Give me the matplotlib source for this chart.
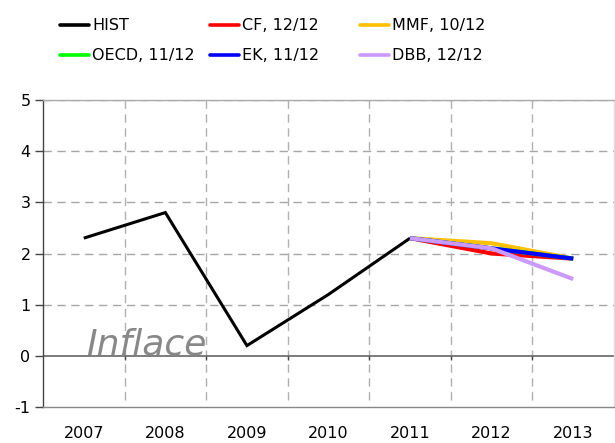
import matplotlib
matplotlib.use("Agg")
import matplotlib.pyplot as plt
from matplotlib.lines import Line2D

plt.rcParams["axes.unicode_minus"] = False

# data
years = ["2007", "2008", "2009", "2010", "2011", "2012", "2013"]
hist = [2.3, 2.8, 0.2, 1.2, 2.3]
fc_years = ["2011", "2012", "2013"]
cf = [2.3, 2.0, 1.9]
mmf = [2.3, 2.2, 1.9]
oecd = [2.3, 2.1, 1.9]
ek = [2.3, 2.1, 1.9]
dbb = [2.3, 2.1, 1.5]

series = [
    ("HIST", years[:5], hist, "black", 2.2),
    ("CF, 12/12", fc_years, cf, "#ff0000", 3.0),
    ("MMF, 10/12", fc_years, mmf, "#ffc000", 3.0),
    ("OECD, 11/12", fc_years, oecd, "#00ff00", 3.0),
    ("EK, 11/12", fc_years, ek, "#0000ff", 3.0),
    ("DBB, 12/12", fc_years, dbb, "#cc99ff", 3.0),
]

W, H = 615, 443
fig = plt.figure(figsize=(W / 100, H / 100), dpi=100)
ax = fig.add_axes([43 / W, 36 / H, 571 / W, 307 / H])

pos = {y: i for i, y in enumerate(years)}
for label, xs, ys, color, lw in series:
    ax.plot([pos[x] for x in xs], ys, color=color, lw=lw, solid_capstyle="butt",
            solid_joinstyle="miter", zorder=3)

ax.set_xlim(-0.5, len(years) - 0.5)
ax.set_ylim(-1, 5)
ax.set_yticks(range(-1, 6))
ax.set_xticks(range(len(years)))
ax.set_xticklabels(years)
ax.tick_params(axis="x", length=0, pad=14, labelsize=11.5, colors="black")
ax.tick_params(axis="y", length=6, width=1, color="#444444", pad=3,
               labelsize=11.5, colors="black")

# grid
dash = (0, (6, 4))
for yv in range(1, 6):
    ax.axhline(yv, color="#a6a6a6", lw=1, linestyle=dash, zorder=1)
for i in range(len(years) - 1):
    ax.vlines(i + 0.5, -0.87, 5, color="#b0b0b0", lw=1, linestyles=dash, zorder=1)
    ax.vlines(i + 0.5, -0.08, 0, color="#444444", lw=1, zorder=2)
ax.axhline(0, color="#666666", lw=1.2, zorder=2)

for s in ["top", "right", "bottom", "left"]:
    ax.spines[s].set_linewidth(1)
ax.spines["left"].set_color("#444444")
ax.spines["bottom"].set_color("#888888")
ax.spines["top"].set_color("#aaaaaa")
ax.spines["right"].set_color("#dddddd")

ax.text(0.03, 0.03, "Inflace", fontsize=26, style="italic", color="#888888",
        ha="left", va="baseline", zorder=2)

# legend drawn in figure pixels
for i, (label, xs, ys, color, lw) in enumerate(series):
    row, col = divmod(i, 3)
    x0 = 60 + 150 * col
    yc = H - (25 + 30 * row)
    fig.add_artist(Line2D([x0 / W, (x0 + 29) / W], [yc / H, yc / H],
                          color=color, lw=2.6, solid_capstyle="round"))
    fig.text((x0 + 32) / W, yc / H, label, fontsize=11.5, va="center", ha="left")

fig.savefig("out.png", dpi=100)
